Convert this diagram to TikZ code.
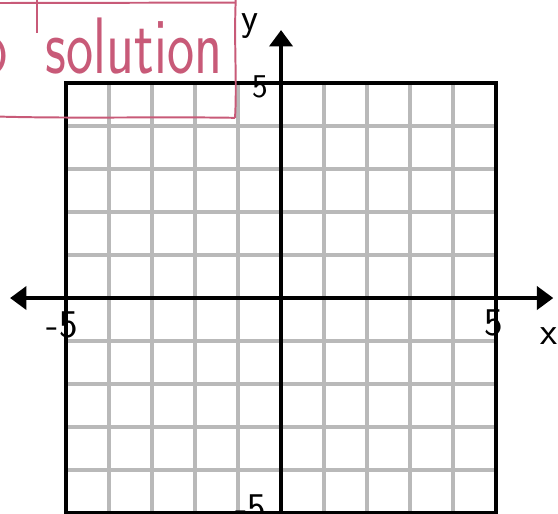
\documentclass[tikz,border=0pt]{standalone}
\usepackage{tikz}
\usetikzlibrary{arrows.meta}
\definecolor{inkpink}{RGB}{200,90,120}
\definecolor{gridgray}{RGB}{185,185,185}

\begin{document}
\begin{tikzpicture}[
    gridline/.style={line width=2.4pt, color=gridgray},
    frame/.style={line width=2.2pt, color=black},
    axis/.style={line width=2.2pt, color=black},
    ticklab/.style={font=\fontsize{26}{26}\sffamily, inner sep=0pt, text=black},
    pen/.style={color=inkpink, line width=1.3pt},
    scrawl/.style={font=\fontsize{53}{53}\sffamily, text=inkpink, inner sep=0pt, xscale=0.72}
]
% ============================================================
% CANVAS
% ============================================================
\useasboundingbox (-6.535,-5.02) rectangle (6.44,6.93);
\clip (-6.535,-5.02) rectangle (6.44,6.93);

% grid
\foreach \k in {-4,...,4} {
    \draw[gridline] (\k,-5) -- (\k,5);
    \draw[gridline] (-5,\k) -- (5,\k);
}
\draw[frame] (-5,-5) rectangle (5,5);

% axes
\coordinate (xL) at (-6.30,0);
\coordinate (xR) at (6.33,0);
\coordinate (yB) at (0,-5.1);
\coordinate (yT) at (0,6.23);
\draw[axis, {Triangle[length=3.8mm, width=5.4mm]}-{Triangle[length=3.8mm, width=5.4mm]}] (xL) -- (xR);
\draw[axis, -{Triangle[length=3.8mm, width=5.4mm]}] (yB) -- (yT);

% labels
\node[ticklab, font=\fontsize{22}{22}\sffamily] (ytop) at (-0.49,4.91) {5};
\node[ticklab] (ybot) at (-0.70,-4.88) {-5};
\node[ticklab] (xleft) at (-5.09,-0.63) {-5};
\node[ticklab] (xright) at (4.95,-0.58) {5};
\node[ticklab, anchor=base] (xname) at (6.23,-1.08) {x};
\node[ticklab, anchor=base] (yname) at (-0.72,6.23) {y};

% pink handwriting box
\node[scrawl, anchor=base] (sol) at (-3.42,5.23) {solution};
\node[scrawl, anchor=base east] (cut) at (-6.35,5.23) {o};
\draw[pen] (-6.6,6.86) -- (-1.07,6.87);
\draw[pen] (-5.67,6.95) -- (-5.67,6.16);
\draw[pen] (-1.05,7.0) .. controls (-1.10,6.0) and (-1.02,5.0) .. (-1.07,4.19);
\draw[pen] (-6.6,4.22) .. controls (-4.8,4.17) and (-2.8,4.22) .. (-1.07,4.19);

\end{tikzpicture}
\end{document}
